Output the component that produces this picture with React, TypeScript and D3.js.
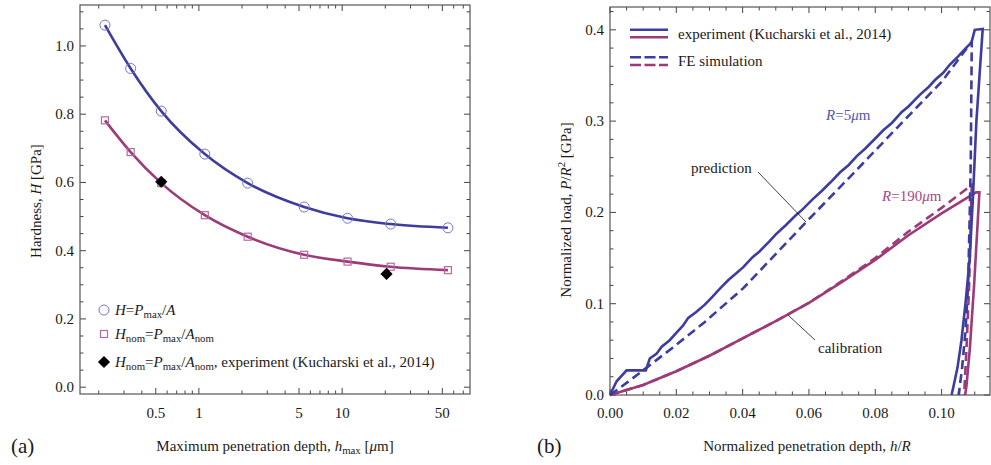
import React from "react";
import * as d3 from "d3";

// panel (a): hardness vs maximum penetration depth
const depth = [0.221, 0.334, 0.546, 1.1, 2.19, 5.43, 10.9, 21.8, 54.7];
const hardness = [1.061, 0.934, 0.809, 0.683, 0.598, 0.528, 0.495, 0.478, 0.467];
const hardnessNom = [0.782, 0.689, 0.598, 0.504, 0.441, 0.388, 0.368, 0.353, 0.343];
const expDepth = [0.546, 20.4];
const expHardnessNom = [0.602, 0.332];
const depthTickLabels = [0.5, 1, 5, 10, 50];
const hardnessTicks = [0, 0.2, 0.4, 0.6, 0.8, 1.0];

// panel (b): normalized load vs normalized depth, [h/R, P/R^2]
const expR5: [number, number][] = [
  [0, 0], [0.002, 0.015], [0.005, 0.027], [0.0108, 0.027], [0.012, 0.04], [0.014, 0.045],
  [0.0156, 0.053], [0.018, 0.06], [0.02, 0.068], [0.022, 0.076], [0.0236, 0.0845],
  [0.026, 0.091], [0.0286, 0.099], [0.031, 0.108], [0.033, 0.116], [0.0357, 0.126],
  [0.038, 0.133], [0.0402, 0.14], [0.043, 0.151], [0.045, 0.157], [0.048, 0.168],
  [0.05, 0.176], [0.053, 0.186], [0.0558, 0.196], [0.058, 0.203], [0.061, 0.214],
  [0.064, 0.224], [0.0665, 0.233], [0.0694, 0.244], [0.072, 0.252], [0.0745, 0.262],
  [0.077, 0.27], [0.08, 0.281], [0.0824, 0.29], [0.085, 0.298], [0.088, 0.31],
  [0.09, 0.316], [0.0935, 0.329], [0.096, 0.337], [0.098, 0.345], [0.1005, 0.353],
  [0.1025, 0.362], [0.105, 0.371], [0.1076, 0.381], [0.109, 0.386], [0.11, 0.4],
  [0.1124, 0.401],
  [0.1105, 0.3], [0.1095, 0.22], [0.1085, 0.15], [0.1072, 0.1], [0.106, 0.06],
  [0.1048, 0.03], [0.1035, 0.008], [0.103, 0],
];
const feR5: [number, number][] = [
  [0, 0], [0.0055, 0.0146], [0.0186, 0.051], [0.0286, 0.08], [0.0402, 0.117],
  [0.0593, 0.19], [0.0724, 0.239], [0.0885, 0.3], [0.1, 0.343], [0.1091, 0.387],
  [0.1088, 0.257], [0.1085, 0.2], [0.108, 0.12], [0.1072, 0.07], [0.1062, 0.03],
  [0.1055, 0.01], [0.1052, 0],
];
const expR190: [number, number][] = [
  [0, 0], [0.01, 0.011], [0.02, 0.026], [0.03, 0.043], [0.04, 0.062], [0.05, 0.081],
  [0.06, 0.101], [0.07, 0.124], [0.08, 0.148], [0.09, 0.175], [0.1, 0.199], [0.1104, 0.222],
  [0.1114, 0.222], [0.1098, 0.12], [0.1085, 0.05], [0.1075, 0.01], [0.1071, 0],
];
const feR190: [number, number][] = [
  [0, 0], [0.01, 0.011], [0.02, 0.026], [0.03, 0.043], [0.04, 0.062], [0.05, 0.081],
  [0.06, 0.101], [0.07, 0.125], [0.08, 0.15], [0.09, 0.179], [0.1, 0.205], [0.1091, 0.23],
  [0.1083, 0.12], [0.1075, 0.05], [0.1068, 0],
];
const loadTicks = [0, 0.1, 0.2, 0.3, 0.4];
const normDepthTicks = [0, 0.02, 0.04, 0.06, 0.08, 0.1];

const BLUE = "#3d3d9f";
const MAGENTA = "#9c3b78";
const FONT = "Liberation Serif, Times New Roman, Tinos, Times, DejaVu Serif, serif";

type Seg = { t: string; i?: boolean; sub?: boolean; sup?: boolean };

function Rich({ x = 0, y = 0, segs, size = 15, fill = "#1a1a1a", anchor = "start", transform }: any) {
  let shift = 0;
  return (
    <text x={x} y={y} fontSize={size} fill={fill} textAnchor={anchor} transform={transform} style={{ fontFamily: FONT }}>
      {segs.map((s: Seg, k: number) => {
        const target = s.sub ? size * 0.22 : s.sup ? -size * 0.38 : 0;
        const dy = target - shift;
        shift = target;
        return (
          <tspan key={k} dy={dy} fontStyle={s.i ? "italic" : "normal"} fontSize={s.sub || s.sup ? size * 0.72 : size}>
            {s.t}
          </tspan>
        );
      })}
    </text>
  );
}

function Txt({ children, ...rest }: any) {
  return (
    <text fontSize={15} fill="#1a1a1a" style={{ fontFamily: FONT }} {...rest}>
      {children}
    </text>
  );
}

export default function App() {
  // panel (a)
  const xa = d3.scaleLog().domain([0.148, 78]).range([80, 470]);
  const ya = d3.scaleLinear().domain([-0.02, 1.12]).range([394, 5]);
  const lineA = d3.line<number>().curve(d3.curveMonotoneX);
  const blueCurve = lineA(depth.map((d, k) => [xa(d), ya(hardness[k])]) as any);
  const magCurve = lineA(depth.map((d, k) => [xa(d), ya(hardnessNom[k])]) as any);

  const logTicks: number[] = [];
  [0.1, 1, 10].forEach((dec) => {
    for (let m = 1; m <= 9; m++) {
      const v = m * dec;
      if (v >= 0.148 && v <= 78) logTicks.push(v);
    }
  });
  const hMinor = d3.range(0, 1.11, 0.05);

  // panel (b)
  const xb = d3.scaleLinear().domain([0, 0.1146]).range([610, 990]);
  const yb = d3.scaleLinear().domain([0, 0.425]).range([395, 7]);
  const lineB = d3.line<[number, number]>().x((d) => xb(d[0])).y((d) => yb(d[1]));
  const xbMinor = d3.range(0, 0.1146, 0.005);
  const ybMinor = d3.range(0, 0.425, 0.02);

  const frame = "#555";
  const tick = "#444";

  return (
    <svg width={991} height={465} style={{ position: "absolute", left: 0, top: 0, background: "#fff" }}>
      <rect width={991} height={465} fill="#fff" />
      {/* ---------- panel (a) ---------- */}
      <g>
        {logTicks.map((v, k) => {
          const major = depthTickLabels.includes(+v.toFixed(3));
          const len = major ? 6 : 3.5;
          return (
            <g key={`lt${k}`} stroke={tick} strokeWidth={1}>
              <line x1={xa(v)} x2={xa(v)} y1={394} y2={394 - len} />
              <line x1={xa(v)} x2={xa(v)} y1={5} y2={5 + len} />
            </g>
          );
        })}
        {hMinor.map((v, k) => {
          const major = Math.abs(Math.round(v / 0.2) * 0.2 - v) < 1e-6;
          const len = major ? 6 : 3.5;
          return (
            <g key={`ht${k}`} stroke={tick} strokeWidth={1}>
              <line x1={80} x2={80 + len} y1={ya(v)} y2={ya(v)} />
              <line x1={470} x2={470 - len} y1={ya(v)} y2={ya(v)} />
            </g>
          );
        })}
        <rect x={80} y={5} width={390} height={389} fill="none" stroke={frame} strokeWidth={1.2} />
        {hardnessTicks.map((v) => (
          <Txt key={`hl${v}`} x={74} y={ya(v) + 5} textAnchor="end">
            {v.toFixed(1)}
          </Txt>
        ))}
        {depthTickLabels.map((v) => (
          <Txt key={`dl${v}`} x={xa(v)} y={418} textAnchor="middle">
            {v}
          </Txt>
        ))}

        <path d={blueCurve || ""} fill="none" stroke={BLUE} strokeWidth={2.6} />
        <path d={magCurve || ""} fill="none" stroke={MAGENTA} strokeWidth={2.6} />
        {depth.map((d, k) => (
          <circle key={`c${k}`} cx={xa(d)} cy={ya(hardness[k])} r={5} fill="none" stroke="#7474cc" strokeWidth={1} />
        ))}
        {depth.map((d, k) => (
          <rect key={`s${k}`} x={xa(d) - 3.5} y={ya(hardnessNom[k]) - 3.5} width={7} height={7} fill="none" stroke="#b868a0" strokeWidth={1.2} />
        ))}
        {expDepth.map((d, k) => (
          <path key={`e${k}`} transform={`translate(${xa(d)},${ya(expHardnessNom[k])})`} d={d3.symbol(d3.symbolDiamond2, 95)() || ""} fill="#000" />
        ))}

        {/* legend */}
        <circle cx={104} cy={310} r={5} fill="none" stroke="#7474cc" strokeWidth={1} />
        <Rich x={115} y={315} segs={[{ t: "H", i: true }, { t: "=" }, { t: "P", i: true }, { t: "max", sub: true }, { t: "/" }, { t: "A", i: true }]} />
        <rect x={100.5} y={330.5} width={7} height={7} fill="none" stroke="#b868a0" strokeWidth={1.2} />
        <Rich x={115} y={339} segs={[{ t: "H", i: true }, { t: "nom", sub: true }, { t: "=" }, { t: "P", i: true }, { t: "max", sub: true }, { t: "/" }, { t: "A", i: true }, { t: "nom", sub: true }]} />
        <path transform="translate(104,362)" d={d3.symbol(d3.symbolDiamond2, 95)() || ""} fill="#000" />
        <Rich x={115} y={367} segs={[{ t: "H", i: true }, { t: "nom", sub: true }, { t: "=" }, { t: "P", i: true }, { t: "max", sub: true }, { t: "/" }, { t: "A", i: true }, { t: "nom", sub: true }, { t: ", experiment (Kucharski et al., 2014)" }]} />

        <Rich transform="translate(41,201) rotate(-90)" anchor="middle" segs={[{ t: "Hardness, " }, { t: "H", i: true }, { t: " [GPa]" }]} />
        <Rich x={275} y={451} anchor="middle" segs={[{ t: "Maximum penetration depth, " }, { t: "h", i: true }, { t: "max", sub: true }, { t: " [" }, { t: "μ", i: true }, { t: "m]" }]} />
        <Txt x={11} y={453} fontSize={21}>(a)</Txt>
      </g>

      {/* ---------- panel (b) ---------- */}
      <g>
        {xbMinor.map((v, k) => {
          const major = k % 4 === 0;
          const len = major ? 6 : 3.5;
          return (
            <g key={`xb${k}`} stroke={tick} strokeWidth={1}>
              <line x1={xb(v)} x2={xb(v)} y1={395} y2={395 - len} />
              <line x1={xb(v)} x2={xb(v)} y1={7} y2={7 + len} />
            </g>
          );
        })}
        {ybMinor.map((v, k) => {
          const major = k % 5 === 0;
          const len = major ? 6 : 3.5;
          return (
            <g key={`yb${k}`} stroke={tick} strokeWidth={1}>
              <line x1={610} x2={610 + len} y1={yb(v)} y2={yb(v)} />
              <line x1={990} x2={990 - len} y1={yb(v)} y2={yb(v)} />
            </g>
          );
        })}
        <rect x={610} y={7} width={380} height={388} fill="none" stroke={frame} strokeWidth={1.2} />
        {loadTicks.map((v) => (
          <Txt key={`ll${v}`} x={604} y={yb(v) + 5} textAnchor="end">
            {v.toFixed(1)}
          </Txt>
        ))}
        {normDepthTicks.map((v) => (
          <Txt key={`nl${v}`} x={xb(v)} y={418} textAnchor="middle">
            {v.toFixed(2)}
          </Txt>
        ))}

        <path d={lineB(feR190) || ""} fill="none" stroke={MAGENTA} strokeWidth={2.6} strokeDasharray="9,5" />
        <path d={lineB(expR190) || ""} fill="none" stroke={MAGENTA} strokeWidth={2.6} />
        <path d={lineB(feR5) || ""} fill="none" stroke={BLUE} strokeWidth={2.6} strokeDasharray="9,5" />
        <path d={lineB(expR5) || ""} fill="none" stroke={BLUE} strokeWidth={2.6} />

        {/* legend */}
        <line x1={630} x2={668} y1={29.7} y2={29.7} stroke={BLUE} strokeWidth={2.6} />
        <line x1={630} x2={668} y1={37.3} y2={37.3} stroke={MAGENTA} strokeWidth={2.6} />
        <line x1={630} x2={668} y1={57.3} y2={57.3} stroke={BLUE} strokeWidth={2.6} strokeDasharray="11,3.5" />
        <line x1={630} x2={668} y1={65} y2={65} stroke={MAGENTA} strokeWidth={2.6} strokeDasharray="11,3.5" />
        <Txt x={678} y={38.5}>experiment (Kucharski et al., 2014)</Txt>
        <Txt x={678} y={66}>FE simulation</Txt>

        {/* annotations */}
        <Txt x={691} y={173}>prediction</Txt>
        <line x1={758} y1={172} x2={806} y2={222} stroke="#111" strokeWidth={0.8} />
        <Txt x={818} y={353}>calibration</Txt>
        <line x1={788} y1={315} x2={815} y2={340} stroke="#111" strokeWidth={0.8} />
        <Rich x={826} y={120} fill="#5454b8" segs={[{ t: "R", i: true }, { t: "=5" }, { t: "μ", i: true }, { t: "m" }]} />
        <Rich x={882} y={201} fill="#a8468a" segs={[{ t: "R", i: true }, { t: "=190" }, { t: "μ", i: true }, { t: "m" }]} />

        <Rich transform="translate(571,210) rotate(-90)" anchor="middle" segs={[{ t: "Normalized load, " }, { t: "P", i: true }, { t: "/" }, { t: "R", i: true }, { t: "2", sup: true }, { t: " [GPa]" }]} />
        <Rich x={807} y={451} anchor="middle" segs={[{ t: "Normalized penetration depth, " }, { t: "h", i: true }, { t: "/" }, { t: "R", i: true }]} />
        <Txt x={537} y={453} fontSize={21}>(b)</Txt>
      </g>
    </svg>
  );
}
